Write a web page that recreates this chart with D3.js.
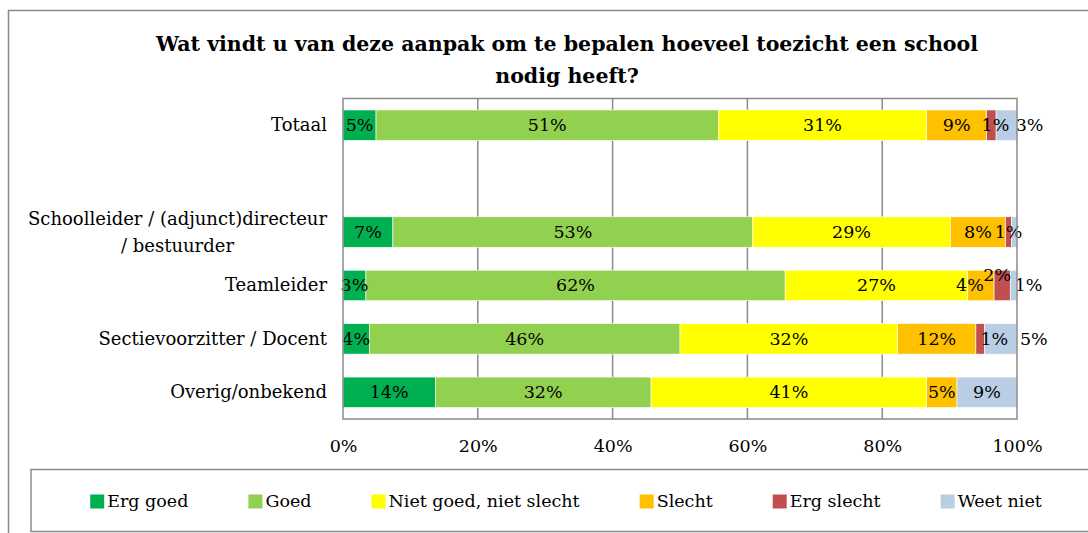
<!DOCTYPE html>
<html>
<head>
<meta charset="utf-8">
<script src="https://cdn.jsdelivr.net/npm/d3@7"></script>
<style>
  body { margin: 0; background: #fff; }
  svg text { font-family: "Palatino Linotype", "Book Antiqua", Palatino, "DejaVu Serif", serif; fill: #000; }
</style>
</head>
<body>
<div id="chart"></div>
<script>
// categories (the empty one is the spacer row under Totaal)
const categories = ["Totaal", "", "Schoolleider / (adjunct)directeur\n/ bestuurder", "Teamleider", "Sectievoorzitter / Docent", "Overig/onbekend"];
const seriesNames = ["Erg goed", "Goed", "Niet goed, niet slecht", "Slecht", "Erg slecht", "Weet niet"];
const seriesColors = ["#00B050", "#92D050", "#FFFF00", "#FFC000", "#C0504D", "#B9CDE5"];

// percentages per series, one value per category
const ergGoed    = [4.9, 0, 7.4, 3.4, 3.9, 13.7];
const goed       = [50.8, 0, 53.4, 62.2, 46.1, 32.0];
const nietGoed   = [30.9, 0, 29.3, 27.1, 32.3, 40.9];
const slecht     = [8.9, 0, 8.2, 3.9, 11.6, 4.5];
const ergSlecht  = [1.4, 0, 0.9, 2.4, 1.3, 0];
const weetNiet   = [3.1, 0, 0.8, 1.0, 4.8, 8.9];
const seriesValues = [ergGoed, goed, nietGoed, slecht, ergSlecht, weetNiet];

const xTicks = [0, 20, 40, 60, 80, 100];
const titleLines = ["Wat vindt  u van deze aanpak om te bepalen hoeveel toezicht een school", "nodig heeft?"];

// labels that were hidden / moved by hand in the original ("row-series")
const hiddenLabels = ["2-5"];
const labelNudge = { "0-4": [4, 0], "0-5": [23, 0], "3-3": [-11, 0], "3-4": [-5, -10], "3-5": [15, 0], "4-4": [14, 0], "4-5": [33, 0] };

const width = 1088, height = 533;
const plot = { left: 343, right: 1017, top: 98.5, bottom: 419 };
const grey = "#8a8a8a";

const svg = d3.select("#chart").append("svg")
  .attr("width", width)
  .attr("height", height);

// outer chart frame (runs off the right / bottom edge)
svg.append("rect")
  .attr("x", 8.5).attr("y", 10.5)
  .attr("width", 1200).attr("height", 600)
  .attr("fill", "none").attr("stroke", grey).attr("stroke-width", 1.5);

// title
svg.append("g").selectAll("text")
  .data(titleLines)
  .enter().append("text")
  .attr("x", 567)
  .attr("y", (d, i) => 51 + i * 32)
  .attr("text-anchor", "middle")
  .attr("font-size", "20.5px")
  .attr("font-weight", "bold")
  .text(d => d);

const xScale = d3.scaleLinear().domain([0, 100]).range([plot.left, plot.right]);
const yScale = d3.scaleBand().domain(d3.range(categories.length)).range([plot.top, plot.bottom]).paddingInner(0.43).paddingOuter(0.215);

// gridlines
svg.append("g").selectAll("line")
  .data(xTicks.slice(1, -1))
  .enter().append("line")
  .attr("x1", d => xScale(d)).attr("x2", d => xScale(d))
  .attr("y1", plot.top).attr("y2", plot.bottom)
  .attr("stroke", grey).attr("stroke-width", 1.5);

// stacked bars
const rows = categories.map((c, i) => {
  let acc = 0;
  return seriesValues.map((vals, s) => {
    const seg = { row: i, s: s, v: vals[i], x0: acc, x1: acc + vals[i] };
    acc += vals[i];
    return seg;
  });
});
const segs = rows.flat().filter(d => d.v > 0);

svg.append("g").selectAll("rect")
  .data(segs)
  .enter().append("rect")
  .attr("x", d => xScale(d.x0))
  .attr("y", d => yScale(d.row))
  .attr("width", d => xScale(d.x1) - xScale(d.x0))
  .attr("height", yScale.bandwidth())
  .attr("fill", d => seriesColors[d.s])
  .attr("stroke", "#fff").attr("stroke-width", 0.6);

// data labels
svg.append("g").selectAll("text")
  .data(segs.filter(d => !hiddenLabels.includes(d.row + "-" + d.s)))
  .enter().append("text")
  .attr("x", d => xScale((d.x0 + d.x1) / 2) + (labelNudge[d.row + "-" + d.s] || [0, 0])[0])
  .attr("y", d => yScale(d.row) + yScale.bandwidth() / 2 + 6 + (labelNudge[d.row + "-" + d.s] || [0, 0])[1])
  .attr("text-anchor", "middle")
  .attr("font-size", "17.5px")
  .text(d => Math.round(d.v) + "%");

// plot frame
svg.append("rect")
  .attr("x", plot.left).attr("y", plot.top)
  .attr("width", plot.right - plot.left).attr("height", plot.bottom - plot.top)
  .attr("fill", "none").attr("stroke", grey).attr("stroke-width", 1.5);

// category labels
const catG = svg.append("g");
categories.forEach((c, i) => {
  if (!c) return;
  const lines = c.split("\n");
  const cy = yScale(i) + yScale.bandwidth() / 2;
  const t = catG.append("text").attr("font-size", "18px");
  if (lines.length === 1) {
    t.attr("x", plot.left - 16).attr("y", cy + 6).attr("text-anchor", "end").text(c);
  } else {
    t.attr("text-anchor", "middle");
    const spans = lines.map((l, k) => t.append("tspan").attr("y", cy - 7 + k * 26.5).text(l));
    const w = spans[0].node().getComputedTextLength();
    spans.forEach(sp => sp.attr("x", plot.left - 16 - w / 2));
  }
});

// x axis
const xAxis = d3.axisBottom(xScale).tickValues(xTicks).tickFormat(d => d + "%").tickSize(0);
const axisG = svg.append("g")
  .attr("transform", `translate(0,${plot.bottom})`)
  .call(xAxis);
axisG.select(".domain").remove();
axisG.selectAll("text")
  .attr("y", 33).attr("dy", null)
  .attr("font-size", "17.5px")
  .attr("font-family", null);

// legend
svg.append("rect")
  .attr("x", 31).attr("y", 469.5)
  .attr("width", 1200).attr("height", 62)
  .attr("fill", "none").attr("stroke", grey).attr("stroke-width", 1.5);

const legend = svg.append("g");
const items = seriesNames.map((name, i) => {
  const g = legend.append("g");
  g.append("rect").attr("width", 14).attr("height", 14).attr("y", -12.5).attr("fill", seriesColors[i]);
  const txt = g.append("text").attr("x", 17).attr("font-size", "17.5px").text(name);
  return { g: g, w: 17 + txt.node().getComputedTextLength() };
});
const gap = 60;
const total = d3.sum(items, d => d.w) + gap * (items.length - 1);
let lx = 566 - total / 2;
items.forEach(it => {
  it.g.attr("transform", `translate(${lx},507)`);
  lx += it.w + gap;
});
</script>
</body>
</html>
